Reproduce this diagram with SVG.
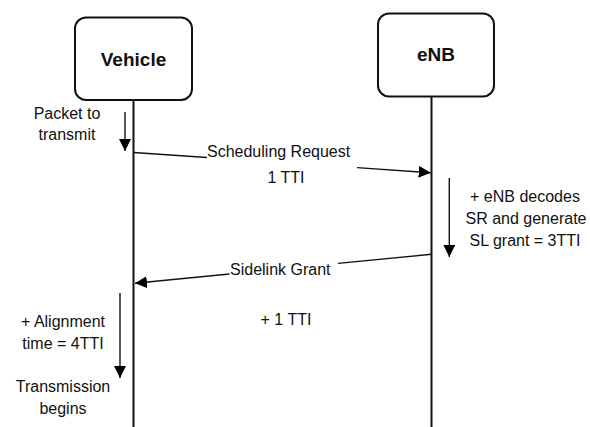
<svg xmlns="http://www.w3.org/2000/svg" width="590" height="427" viewBox="0 0 590 427">
<defs>
<marker id="ah" viewBox="0 0 12 12" refX="12" refY="6" markerWidth="12" markerHeight="12" markerUnits="userSpaceOnUse" orient="auto">
<path d="M0,0 L12,6 L0,12 Z" fill="#000"/>
</marker>
</defs>
<style>
.box{fill:#fff;stroke:#111;stroke-width:2}
.life{stroke:#111;stroke-width:2;fill:none}
.ln{stroke:#111;stroke-width:1.4;fill:none}
.t{font-family:"Liberation Sans",Arial,sans-serif;font-size:16px;fill:#111}
.b{font-family:"Liberation Sans",Arial,sans-serif;font-size:19px;font-weight:bold;fill:#111}
.m{text-anchor:middle}
</style>
<rect width="590" height="427" fill="#fff"/>
<g id="vehicle">
<rect class="box" x="75" y="17.5" width="117" height="82.5" rx="11"/>
<text class="b m" x="133.5" y="65.5">Vehicle</text>
</g>
<g id="enb">
<rect class="box" x="378" y="13.5" width="116" height="83" rx="11"/>
<text class="b m" x="436" y="61">eNB</text>
</g>
<g id="connectors">
<line class="life" x1="133.5" y1="100" x2="133.5" y2="427"/>
<line class="life" x1="431.5" y1="96.5" x2="431.5" y2="427"/>
<line class="ln" x1="125" y1="112" x2="125" y2="151" marker-end="url(#ah)"/>
<path class="ln" d="M133.5,152.5 L207,157.5"/>
<path class="ln" d="M357,167.6 L430.7,172.7" marker-end="url(#ah)"/>
<line class="ln" x1="449.3" y1="178" x2="449.3" y2="257" marker-end="url(#ah)"/>
<path class="ln" d="M431.5,254.3 L338,263.4"/>
<path class="ln" d="M229.5,274 L135,283.3" marker-end="url(#ah)"/>
<line class="ln" x1="120" y1="293" x2="120" y2="378" marker-end="url(#ah)"/>
</g>
<g id="labels">
<text class="t m" x="67" y="119">Packet to</text>
<text class="t m" x="67" y="140">transmit</text>
<text class="t" x="207" y="157">Scheduling Request</text>
<text class="t m" x="286" y="183">1 TTI</text>
<text class="t m" x="525" y="202">+ eNB decodes</text>
<text class="t m" x="526" y="224">SR and generate</text>
<text class="t m" x="525" y="246">SL grant = 3TTI</text>
<text class="t" x="230" y="275">Sidelink Grant</text>
<text class="t m" x="286" y="325">+ 1 TTI</text>
<text class="t m" x="63" y="327">+ Alignment</text>
<text class="t m" x="63" y="349">time = 4TTI</text>
<text class="t m" x="63" y="392">Transmission</text>
<text class="t m" x="63" y="414">begins</text>
</g>
</svg>
